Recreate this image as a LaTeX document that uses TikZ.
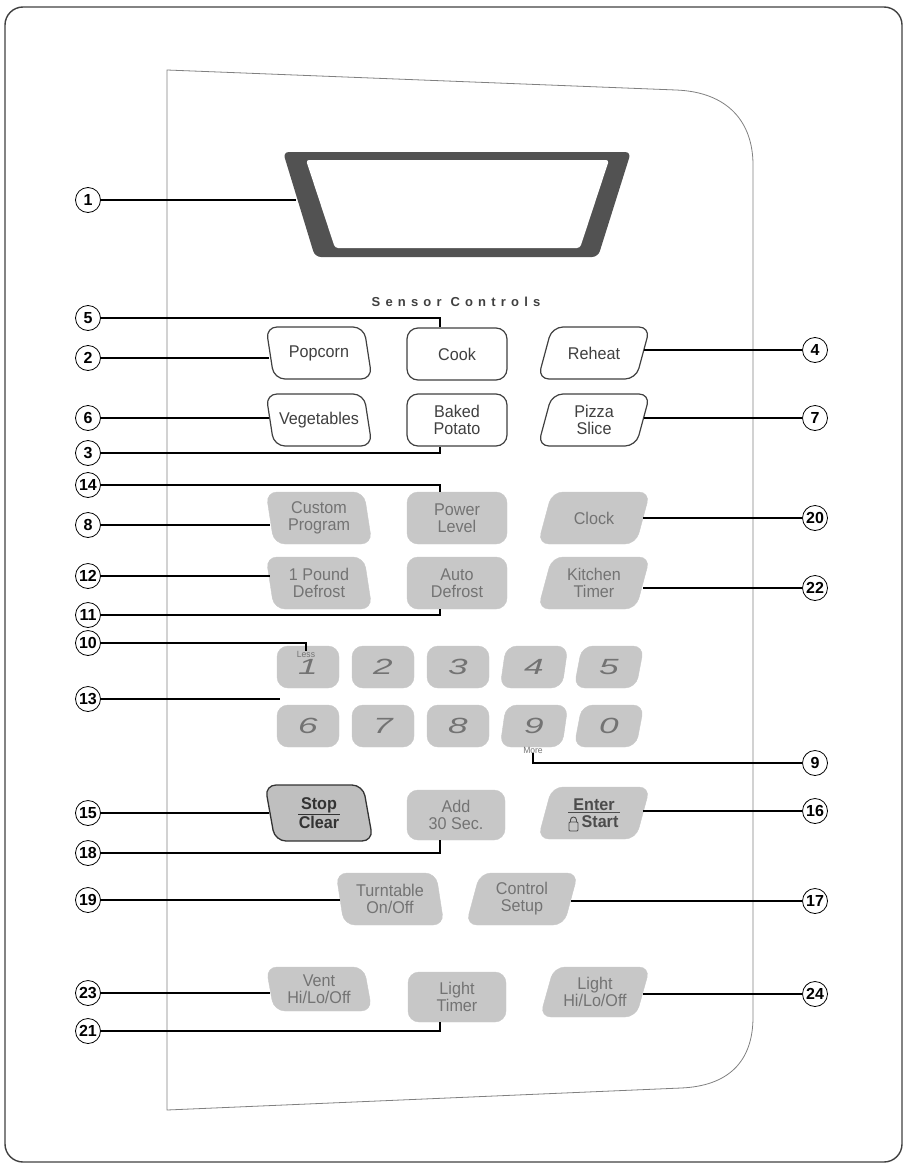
\documentclass[tikz,border=0pt]{standalone}
\usepackage{fontspec}
\setmainfont{Liberation Sans}
\newfontfamily\keyfont[FakeStretch=0.95]{Liberation Sans}
\newfontfamily\digitfont[FakeStretch=1.6]{Liberation Sans}
\newfontfamily\spacedfont[LetterSpace=40]{Liberation Sans}

\tikzset{
  frame/.style={draw=black!75, line width=1.4pt, rounded corners=18pt},
  panel/.style={draw=black!50, line width=0.8pt},
  callout/.style={circle, draw=black, line width=0.8pt, fill=white, inner sep=0pt,
    minimum size=25pt, font=\bfseries\fontsize{16}{16}\selectfont},
  lead/.style={line width=1.1pt},
  sensorkey/.style={draw=black!75, line width=1.2pt, fill=white, text=black!75},
  greykey/.style={draw=black!22, fill=black!22, text=black!55},
  stopkey/.style={draw=black!80, line width=1.3pt, fill=black!25, text=black!80},
  keytxt/.style={inner sep=0pt, align=center, font=\keyfont\fontsize{17}{17}\selectfont},
  small/.style={inner sep=0pt, text=black!55, font=\keyfont\fontsize{9}{9}\selectfont}
}

% key outline plus a named node for its label
\newcommand{\btn}[8][greykey]{%
  \draw[#1, rounded corners=11pt] ({#3-#5+(#7)},{#4-#6}) -- ({#3+#5+(#7)},{#4-#6})
    -- ({#3+#5-(#7)},{#4+#6}) -- ({#3-#5-(#7)},{#4+#6}) -- cycle;
  \node[keytxt, #1, draw=none, fill=none, minimum width=2*#5, minimum height=2*#6] (#2) at (#3,#4) {#8};}
\newcommand{\dig}[1]{{\digitfont\itshape\fontsize{22}{22}\selectfont #1}}

\begin{document}
\begin{tikzpicture}[x=1pt,y=-1pt]
\useasboundingbox (0,0) rectangle (906,1167);

% frame and panel
\draw[frame] (5,7) rectangle (902,1162);
\draw[panel] (167,70) -- (676,90) .. controls (728,92) and (753,122) .. (753,165)
  -- (753,1017) .. controls (753,1062) and (728,1086) .. (681,1088) -- (167,1110) -- cycle;

% display
\fill[black!68, rounded corners=6pt] (283,152) -- (631,152) -- (598,257) -- (315,257) -- cycle;
\fill[white, rounded corners=3pt] (306,160) -- (609,160) -- (580,248) -- (335,248) -- cycle;
\coordinate (disp) at (296,200);

\node[text=black!75, font=\spacedfont\bfseries\fontsize{13}{13}\selectfont] (sensor) at (456,302) {Sensor Controls};

% sensor keys
\btn[sensorkey]{pop}{319}{353}{49}{26}{-4}{Popcorn}
\btn[sensorkey]{cook}{457}{354}{50}{26}{0}{Cook}
\btn[sensorkey]{reheat}{594}{353}{49}{26}{7}{Reheat}
\btn[sensorkey]{veg}{319}{420}{49}{26}{-4}{Vegetables}
\btn[sensorkey]{potato}{457}{420}{50}{26}{0}{Baked\\Potato}
\btn[sensorkey]{pizza}{594}{420}{49}{26}{7}{Pizza\\Slice}

% grey keys
\btn{custom}{319}{518}{49}{26}{-4}{Custom\\Program}
\btn{power}{457}{518}{50}{26}{0}{Power\\Level}
\btn{clock}{594}{518}{49}{26}{7}{Clock}
\btn{pound}{319}{583}{49}{26}{-4}{1 Pound\\Defrost}
\btn{auto}{457}{583}{50}{26}{0}{Auto\\Defrost}
\btn{kitchen}{594}{583}{49}{26}{7}{Kitchen\\Timer}

% number pad
\btn{k1}{308}{667}{31}{21}{0}{\dig{1}}
\btn{k2}{383}{667}{31}{21}{0}{\dig{2}}
\btn{k3}{458}{667}{31}{21}{0}{\dig{3}}
\btn{k4}{534}{667}{31}{21}{3}{\dig{4}}
\btn{k5}{609}{667}{31}{21}{4}{\dig{5}}
\btn{k6}{308}{726}{31}{21}{0}{\dig{6}}
\btn{k7}{383}{726}{31}{21}{0}{\dig{7}}
\btn{k8}{458}{726}{31}{21}{0}{\dig{8}}
\btn{k9}{534}{726}{31}{21}{3}{\dig{9}}
\btn{k0}{609}{726}{31}{21}{4}{\dig{0}}
\node[small] (less) at (306,654) {Less};
\node[small] (more) at (533,750) {More};
\coordinate (pad) at (280,699);

% lower keys
\btn[stopkey]{stop}{319}{813}{49}{28}{-5}{\bfseries\underline{\makebox[42pt]{Stop}}\\\bfseries Clear}
\btn{add}{456}{815}{49}{25}{0}{Add\\30 Sec.}
\btn[greykey,text=black!70]{enter}{594}{813}{49}{26}{7}{\bfseries\underline{\makebox[52pt]{Enter}}\\\bfseries\hspace*{12pt}Start}
\draw[black!70, line width=0.9pt, rounded corners=1pt] (569,822) rectangle (578,831);
\draw[black!70, line width=0.9pt] (570.5,822) -- (570.5,820) arc (180:360:3) -- (576.5,822);
\btn{turn}{390}{899}{50}{26}{-4}{Turntable\\On/Off}
\btn{setup}{522}{899}{49}{26}{7}{Control\\Setup}
\btn{vent}{319}{989}{49}{22}{-4}{Vent\\Hi/Lo/Off}
\btn{ltimer}{457}{997}{49}{25}{0}{Light\\Timer}
\btn{lighthl}{595}{992}{48}{25}{7}{Light\\Hi/Lo/Off}

% callouts
\node[callout] (c1) at (88,200) {1};
\node[callout] (c5) at (88,318) {5};
\node[callout] (c2) at (88,358) {2};
\node[callout] (c4) at (815,350) {4};
\node[callout] (c6) at (88,418) {6};
\node[callout] (c7) at (815,418) {7};
\node[callout] (c3) at (88,453) {3};
\node[callout] (c14) at (88,485) {14};
\node[callout] (c8) at (88,525) {8};
\node[callout] (c20) at (815,518) {20};
\node[callout] (c12) at (88,576) {12};
\node[callout] (c22) at (815,588) {22};
\node[callout] (c11) at (88,615) {11};
\node[callout] (c10) at (88,643) {10};
\node[callout] (c13) at (88,699) {13};
\node[callout] (c9) at (815,763) {9};
\node[callout] (c15) at (88,813) {15};
\node[callout] (c16) at (815,811) {16};
\node[callout] (c18) at (88,853) {18};
\node[callout] (c19) at (88,900) {19};
\node[callout] (c17) at (815,901) {17};
\node[callout] (c23) at (88,993) {23};
\node[callout] (c24) at (815,994) {24};
\node[callout] (c21) at (88,1031) {21};

% leaders
\draw[lead] (c1) -- (disp);
\draw[lead] (c5) -| ([xshift=-17pt]cook.north);
\draw[lead] (c2) -- (c2 -| pop.west);
\draw[lead] (c4) -- (c4 -| reheat.east);
\draw[lead] (c6) -- (c6 -| veg.west);
\draw[lead] (c7) -- (c7 -| pizza.east);
\draw[lead] (c3) -| ([xshift=-17pt]potato.south);
\draw[lead] (c14) -| ([xshift=-17pt]power.north);
\draw[lead] (c8) -- (c8 -| custom.west);
\draw[lead] (c20) -- (c20 -| clock.east);
\draw[lead] (c12) -- (c12 -| pound.west);
\draw[lead] (c22) -- (c22 -| kitchen.east);
\draw[lead] (c11) -| ([xshift=-17pt]auto.south);
\draw[lead] (c10) -| (less.north);
\draw[lead] (c13) -- (pad);
\draw[lead] (c9) -| (more.south);
\draw[lead] (c15) -- (c15 -| stop.west);
\draw[lead] (c16) -- (c16 -| enter.east);
\draw[lead] (c18) -| ([xshift=-16pt]add.south);
\draw[lead] (c19) -- (c19 -| turn.west);
\draw[lead] (c17) -- (c17 -| setup.east);
\draw[lead] (c23) -- (c23 -| vent.west);
\draw[lead] (c24) -- (c24 -| lighthl.east);
\draw[lead] (c21) -| ([xshift=-17pt]ltimer.south);
\end{tikzpicture}
\end{document}
